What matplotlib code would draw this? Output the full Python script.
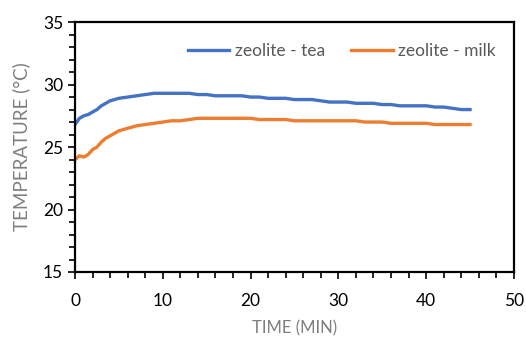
import matplotlib.pyplot as plt
from matplotlib.ticker import MultipleLocator

plt.rcParams['font.family'] = ['Lato', 'DejaVu Sans']

# Temperature readings (°C) over time (min)
time_min = [0, 0.5, 1, 1.5, 2, 2.5, 3, 3.5, 4, 5, 6, 7, 8, 9, 10, 11, 12, 13, 14,
            15, 16, 17, 18, 19, 20, 21, 22, 23, 24, 25, 26, 27, 28, 29, 30, 31, 32,
            33, 34, 35, 36, 37, 38, 39, 40, 41, 42, 43, 44, 45]
tea = [26.8, 27.3, 27.5, 27.6, 27.8, 28.0, 28.3, 28.5, 28.7, 28.9, 29.0, 29.1, 29.2,
       29.3, 29.3, 29.3, 29.3, 29.3, 29.2, 29.2, 29.1, 29.1, 29.1, 29.1, 29.0, 29.0,
       28.9, 28.9, 28.9, 28.8, 28.8, 28.8, 28.7, 28.6, 28.6, 28.6, 28.5, 28.5, 28.5,
       28.4, 28.4, 28.3, 28.3, 28.3, 28.3, 28.2, 28.2, 28.1, 28.0, 28.0]
milk = [24.0, 24.3, 24.2, 24.4, 24.8, 25.0, 25.4, 25.7, 25.9, 26.3, 26.5, 26.7, 26.8,
        26.9, 27.0, 27.1, 27.1, 27.2, 27.3, 27.3, 27.3, 27.3, 27.3, 27.3, 27.3, 27.2,
        27.2, 27.2, 27.2, 27.1, 27.1, 27.1, 27.1, 27.1, 27.1, 27.1, 27.1, 27.0, 27.0,
        27.0, 26.9, 26.9, 26.9, 26.9, 26.9, 26.8, 26.8, 26.8, 26.8, 26.8]

fig = plt.figure(figsize=(5.26, 3.45), dpi=100)
ax = fig.add_axes([0.1426, 0.2116, 0.8344, 0.7244])

ax.plot(time_min, tea, color='#4472C4', lw=2.4, label='zeolite - tea')
ax.plot(time_min, milk, color='#ED7D31', lw=2.4, label='zeolite - milk')

ax.set_xlim(0, 50)
ax.set_ylim(15, 35)
ax.xaxis.set_major_locator(MultipleLocator(10))
ax.xaxis.set_minor_locator(MultipleLocator(2))
ax.yaxis.set_major_locator(MultipleLocator(5))
ax.yaxis.set_minor_locator(MultipleLocator(1))
ax.tick_params(which='both', direction='out', width=1.2, colors='black', labelsize=12.5)
ax.tick_params(which='major', length=5)
ax.tick_params(which='minor', length=4)
ax.tick_params(axis='x', pad=10)
for s in ax.spines.values():
    s.set_linewidth(1.6)

ax.set_xlabel('TIME (MIN)', color='#7f7f7f', fontsize=12, labelpad=8)
ax.set_ylabel('TEMPERATURE (°C)', color='#7f7f7f', fontsize=13.5, labelpad=9)

leg = ax.legend(loc='center left', bbox_to_anchor=(0.257, 0.884), ncol=2, frameon=False,
                fontsize=12.5, handlelength=2.4, columnspacing=1.5, handletextpad=0.3,
                borderpad=0, borderaxespad=0)
for t in leg.get_texts():
    t.set_color('#595959')

fig.savefig('out.png', dpi=100)
